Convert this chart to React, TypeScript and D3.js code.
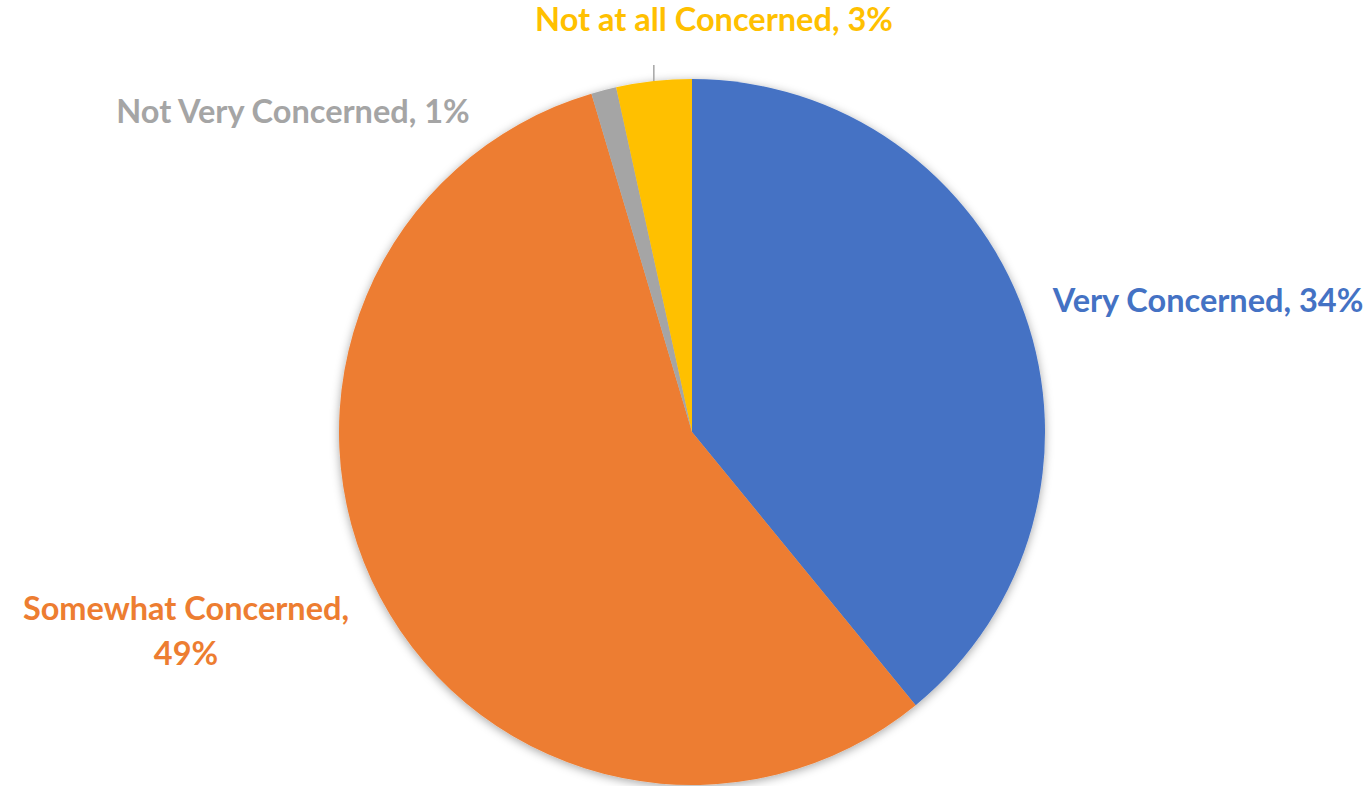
import React from "react";
import * as d3 from "d3";

const categories = ["Very Concerned", "Somewhat Concerned", "Not Very Concerned", "Not at all Concerned"];
const values = [34, 49, 1, 3];
const colors = ["#4472C4", "#ED7D31", "#A5A5A5", "#FFC000"];
const labelLines: string[][] = [
  ["Very Concerned, 34%"],
  ["Somewhat Concerned,", "49%"],
  ["Not Very Concerned, 1%"],
  ["Not at all Concerned, 3%"],
];

const W = 1371;
const H = 786;
const cx = 692;
const cy = 432;
const R = 353;

// label layout (center x, first baseline y)
const labelPos: [number, number][] = [
  [1208, 312],
  [186, 620],
  [293, 123],
  [714, 31],
];

export default function App() {
  const data = categories.map((c, i) => ({ c, v: values[i], i }));
  const pie = d3.pie<any>().value((d) => d.v).sort(null).startAngle(0).endAngle(2 * Math.PI);
  const arcs = pie(data);
  const arc = d3.arc<any>().innerRadius(0).outerRadius(R);

  const a3 = arcs[3];
  const mid = (a3.startAngle + a3.endAngle) / 2;
  const lx = cx + Math.sin(mid) * R;
  const ly = cy - Math.cos(mid) * R;

  return (
    <svg width={W} height={H} style={{ position: "absolute", left: 0, top: 0, background: "#fff" }}>
      <defs>
        <filter id="sh" x="-10%" y="-10%" width="120%" height="120%">
          <feDropShadow dx="0" dy="2" stdDeviation="5" floodColor="#000" floodOpacity="0.35" />
        </filter>
      </defs>
      <g transform={`translate(${cx},${cy})`} filter="url(#sh)">
        {arcs.map((a, i) => (
          <path key={i} d={arc(a) as string} fill={colors[i]} stroke="none" />
        ))}
      </g>
      <line x1={lx} x2={lx} y1={ly - 16} y2={ly} stroke="#A5A5A5" strokeWidth={1.5} />
      {labelLines.map((lines, i) => (
        <text
          key={i}
          x={labelPos[i][0]}
          y={labelPos[i][1]}
          textAnchor="middle"
          fill={colors[i]}
          fontFamily="Lato, 'Open Sans', sans-serif"
          fontWeight="bold"
          fontSize={32.5}
        >
          {lines.map((l, j) => (
            <tspan key={j} x={labelPos[i][0]} dy={j === 0 ? 0 : 45}>
              {l}
            </tspan>
          ))}
        </text>
      ))}
    </svg>
  );
}
